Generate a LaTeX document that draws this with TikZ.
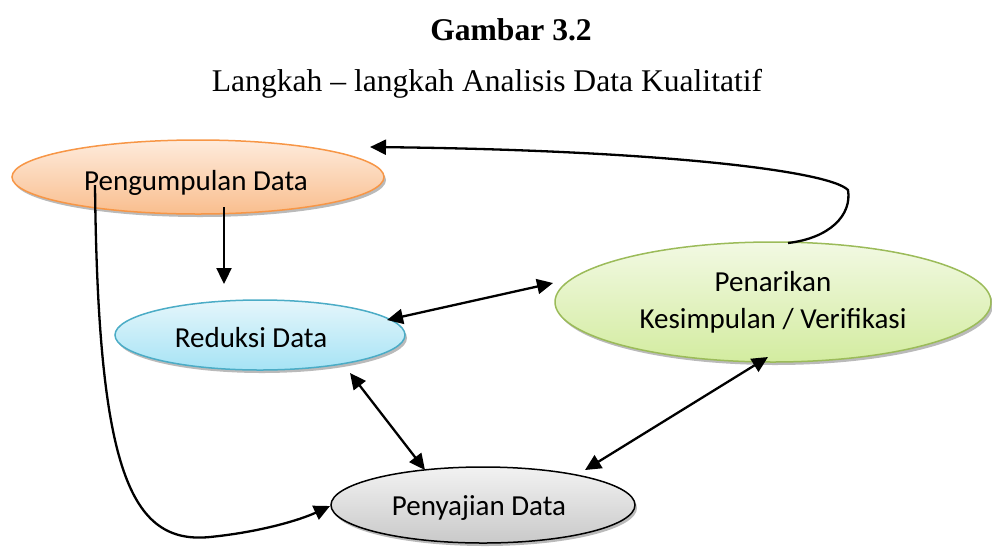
\documentclass[tikz,border=0pt]{standalone}
\usepackage{fontspec}
\setmainfont{Liberation Serif}
\newfontfamily\calib{Carlito}
\usetikzlibrary{shapes.geometric,shadows,arrows.meta,calc}
\definecolor{orOut}{HTML}{F79646}
\definecolor{orTop}{HTML}{FEEBDC}
\definecolor{orBot}{HTML}{F9BE8E}
\definecolor{blOut}{HTML}{4BACC6}
\definecolor{blTop}{HTML}{E5F6FB}
\definecolor{blBot}{HTML}{A6E3F5}
\definecolor{grOut}{HTML}{9BBB59}
\definecolor{grTop}{HTML}{F2F9E3}
\definecolor{grBot}{HTML}{D3ECA0}
\definecolor{gyTop}{HTML}{F2F2F2}
\definecolor{gyBot}{HTML}{C9C9C9}
\tikzset{
  stage/.style={ellipse, inner sep=0pt, line width=1.5pt, align=center,
    font=\calib\fontsize{29}{37}\selectfont,
    drop shadow={shadow xshift=2pt, shadow yshift=-3pt, fill=black!45, opacity=0.6}},
  every label/.style={font=\calib\fontsize{29}{37}\selectfont, inner sep=0pt},
  tip/.tip={Triangle[length=16pt,width=15pt]},
  flow/.style={line width=2.3pt, -tip},
  bflow/.style={line width=2.3pt, tip-tip},
  titletext/.style={font=\fontsize{31.6}{38}\selectfont}
}
\begin{document}
\begin{tikzpicture}[x=1pt,y=-1pt]
\useasboundingbox (0,0) rectangle (992,547);
\node[titletext, font=\bfseries\fontsize{31.6}{38}\selectfont] (title) at (511,30) {Gambar 3.2};
\node[titletext] (sub) at (487,84) {Langkah – langkah Analisis Data Kualitatif};

\node[stage, draw=orOut, top color=orTop, bottom color=orBot,
  minimum width=372pt, minimum height=74pt,
  label={[xshift=-2pt,yshift=-6pt]center:Pengumpulan Data}] (peng) at (198,177) {};
\node[stage, draw=blOut, top color=blTop, bottom color=blBot,
  minimum width=290pt, minimum height=70pt,
  label={[xshift=-9pt,yshift=-3pt]center:Reduksi Data}] (red) at (260,335) {};
\node[stage, draw=grOut, top color=grTop, bottom color=grBot,
  minimum width=436pt, minimum height=120pt] (pen) at (773,302) {Penarikan\\Kesimpulan / Verifikasi};
\node[stage, draw=black, top color=gyTop, bottom color=gyBot,
  minimum width=304pt, minimum height=76pt,
  label={[xshift=-4pt,yshift=-3pt]center:Penyajian Data}] (peny) at (483,505) {};

\draw[flow] ($(peng.center)+(26,30)$) -- ($(red.center)+(-36,-51)$);
\draw[bflow] ($(red.center)+(127,-15)$) -- ($(pen.center)+(-220,-19)$);
\draw[bflow] ($(red.center)+(90,38)$) -- ($(peny.center)+(-58,-35)$);
\draw[bflow] ($(pen.center)+(-5,55)$) -- ($(peny.center)+(102,-35)$);
\draw[flow] ($(peng.center)+(-103,8)$) .. controls (98,470) and (130,545) .. (210,537)
  .. controls (260,532) and (300,520) .. ($(peny.center)+(-153,1)$);
\draw[flow] ($(pen.center)+(15,-59)$) .. controls (830,238) and (852,215) .. (848,190)
  .. controls (828,170) and (650,150) .. ($(peng.center)+(172,-30)$);
\end{tikzpicture}
\end{document}
